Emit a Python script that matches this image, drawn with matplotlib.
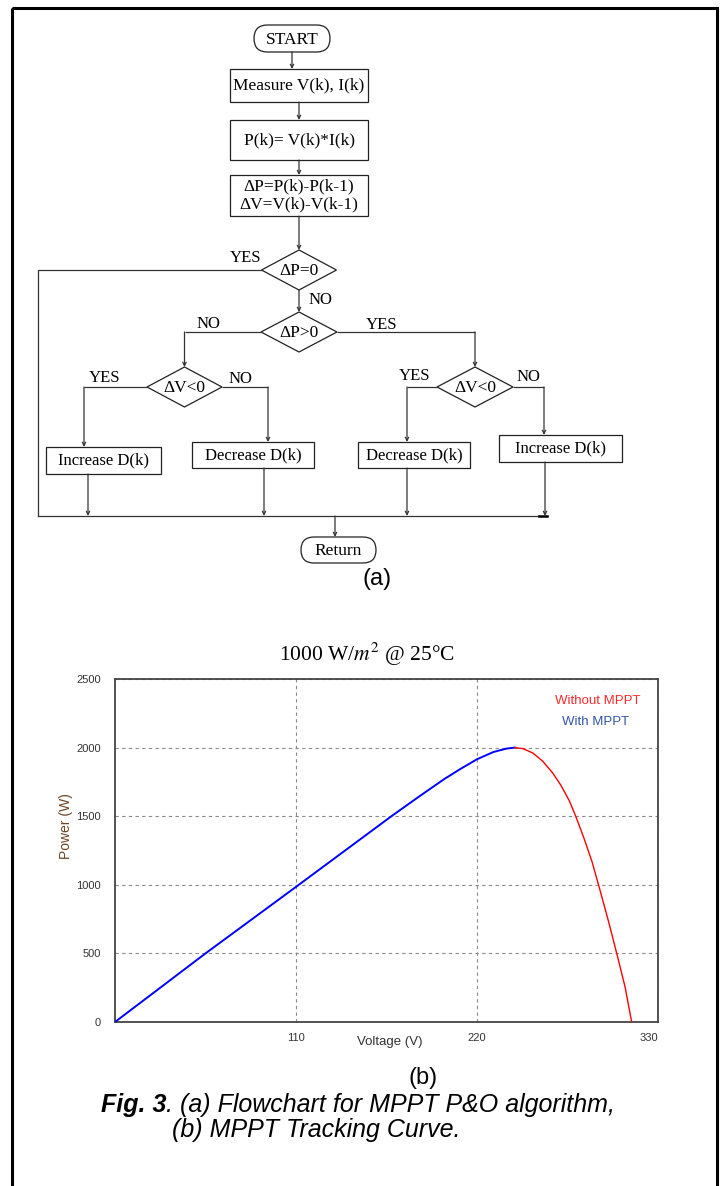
import matplotlib
matplotlib.use("Agg")
import matplotlib.pyplot as plt
from matplotlib.patches import Rectangle, Polygon, FancyBboxPatch

W, H = 722, 1186
SERIF = "Liberation Serif"
SANS = "Liberation Sans"
plt.rcParams["mathtext.fontset"] = "stix"

# MPPT tracking curve (voltage in V, power in W)
v_with_mppt = [0, 55, 110, 168, 185, 200, 210, 220, 230, 238, 243]
p_with_mppt = [0, 500, 985, 1500, 1645, 1770, 1845, 1915, 1968, 1993, 2000]
v_without_mppt = [243, 248, 254, 260, 266, 271, 276, 280, 285, 290, 295, 300, 305, 310, 314]
p_without_mppt = [2000, 1992, 1960, 1900, 1815, 1725, 1615, 1500, 1340, 1165, 950, 730, 496, 255, 0]
x_ticks = [110, 220, 330]
y_ticks = [0, 500, 1000, 1500, 2000, 2500]

# flowchart labels
box_labels = ["Measure V(k), I(k)", "P(k)= V(k)*I(k)", "\u0394P=P(k)-P(k-1)\n\u0394V=V(k)-V(k-1)"]
decision_labels = ["\u0394P=0", "\u0394P>0", "\u0394V<0", "\u0394V<0"]
action_labels = ["Increase D(k)", "Decrease D(k)", "Decrease D(k)", "Increase D(k)"]

LINE = "#333333"


def box(ax, x0, x1, y0, y1, text, fs=12.5):
    ax.add_patch(Rectangle((x0, y0), x1 - x0, y1 - y0, fill=False, ec="#222222", lw=0.9))
    ax.text((x0 + x1) / 2, (y0 + y1) / 2, text, ha="center", va="center",
            fontsize=fs, family=SERIF, linespacing=1.2)


def terminal(ax, x0, x1, y0, y1, text):
    h = y1 - y0
    ax.add_patch(FancyBboxPatch((x0, y0), x1 - x0, h,
                                boxstyle=f"round,pad=0,rounding_size={h / 2}",
                                fill=False, ec="#222222", lw=0.9))
    ax.text((x0 + x1) / 2, (y0 + y1) / 2 + 1, text, ha="center", va="center",
            fontsize=12.5, family=SERIF)


def diamond(ax, cx, cy, hw, hh, text):
    ax.add_patch(Polygon([(cx - hw, cy), (cx, cy - hh), (cx + hw, cy), (cx, cy + hh)],
                         closed=True, fill=False, ec="#222222", lw=0.9))
    ax.text(cx, cy + 1, text, ha="center", va="center", fontsize=12.5, family=SERIF)


def path(ax, pts, arrow=True):
    xs = [p[0] for p in pts]
    ys = [p[1] for p in pts]
    if arrow:
        ax.plot(xs[:-1], ys[:-1], color=LINE, lw=0.9, solid_capstyle="butt")
        ax.annotate("", xy=pts[-1], xytext=pts[-2],
                    arrowprops=dict(arrowstyle="->", color=LINE, lw=0.9,
                                    mutation_scale=6, shrinkA=0, shrinkB=0))
    else:
        ax.plot(xs, ys, color=LINE, lw=0.9)


def label(ax, x, y, text):
    ax.text(x, y, text, ha="center", va="center", fontsize=12, family=SERIF)


fig = plt.figure(figsize=(W / 100, H / 100), dpi=100)
bg = fig.add_axes([0, 0, 1, 1])
bg.set_xlim(0, W)
bg.set_ylim(H, 0)
bg.axis("off")

# outer frame
bg.add_patch(Rectangle((12, 8), 705, 1190, fill=False, ec="black", lw=2.2))

# ---- flowchart (a) ----
terminal(bg, 254, 330, 25, 52, "START")
path(bg, [(292, 52), (292, 69)])
box(bg, 230, 368, 69, 102, box_labels[0])
path(bg, [(299, 102), (299, 120)])
box(bg, 230, 368, 120, 160, box_labels[1])
path(bg, [(299, 160), (299, 175)])
box(bg, 230, 368, 175, 216, box_labels[2])
path(bg, [(299, 216), (299, 250)])

diamond(bg, 299, 270, 37.5, 20, decision_labels[0])
label(bg, 246, 258, "YES")
path(bg, [(261.5, 270), (38, 270), (38, 516)], arrow=False)
label(bg, 320, 300, "NO")
path(bg, [(299, 290), (299, 312)])

diamond(bg, 299, 332, 38, 20, decision_labels[1])
label(bg, 208, 324, "NO")
label(bg, 382, 325, "YES")
path(bg, [(261, 332), (184.5, 332), (184.5, 367)])
path(bg, [(337, 332), (475, 332), (475, 367)])

diamond(bg, 184.5, 387, 37.5, 20, decision_labels[2])
label(bg, 105, 378, "YES")
label(bg, 240, 379, "NO")
path(bg, [(147, 387), (84, 387), (84, 447)])
path(bg, [(222, 387), (268, 387), (268, 442)])

diamond(bg, 475, 387, 38, 20, decision_labels[3])
label(bg, 415, 376, "YES")
label(bg, 528, 377, "NO")
path(bg, [(437, 387), (407, 387), (407, 442)])
path(bg, [(513, 387), (544, 387), (544, 435)])

box(bg, 46, 161, 447, 474, action_labels[0], fs=12)
box(bg, 192, 314, 442, 468, action_labels[1], fs=12)
box(bg, 358, 470, 442, 468, action_labels[2], fs=12)
box(bg, 499, 622, 435, 462, action_labels[3], fs=12)

path(bg, [(88, 474), (88, 516)])
path(bg, [(264, 468), (264, 516)])
path(bg, [(407, 468), (407, 516)])
path(bg, [(545, 462), (545, 516)])
path(bg, [(38, 516), (547, 516)], arrow=False)
bg.plot([539, 547], [516, 516], color="black", lw=1.8)
path(bg, [(335, 516), (335, 537)])
terminal(bg, 301, 376, 537, 563, "Return")
bg.text(377, 579, "(a)", ha="center", va="center", fontsize=17, family=SANS)

# ---- tracking curve (b) ----
bg.text(367, 654, r"1000 W/$m^2$ @ 25°C", ha="center", va="center",
        fontsize=15.5, family=SERIF)

ax = fig.add_axes([115 / W, 1 - 1022 / H, 543 / W, 343 / H])
ax.plot(v_with_mppt, p_with_mppt, color="#0000ff", lw=1.4, zorder=3)
ax.plot(v_without_mppt, p_without_mppt, color="#ff0000", lw=1.0, zorder=3)
ax.set_xlim(0, 330)
ax.set_ylim(0, 2500)
ax.set_xticks(x_ticks)
ax.set_yticks(y_ticks)
ax.set_axisbelow(True)
ax.grid(True, ls=(0, (3, 3)), color="#8a8a8a", lw=0.8)
ax.tick_params(length=0, labelsize=8, labelcolor="#333333")
ax.tick_params(axis="y", pad=10)
ax.tick_params(axis="x", pad=8)
for t in ax.get_xticklabels() + ax.get_yticklabels():
    t.set_family(SANS)
ax.get_xticklabels()[-1].set_ha("right")
for s in ax.spines.values():
    s.set_color("#444444")
    s.set_linewidth(1.3)

ax.set_xlabel("Voltage (V)", fontsize=9.5, family=SANS, color="#333333")
ax.xaxis.set_label_coords(0.506, -0.040)
ax.set_ylabel("Power (W)", fontsize=10, family=SANS, color="#6b4423")
ax.yaxis.set_label_coords(-0.077, 0.57)

ax.text(293.5, 2340, "Without MPPT", color="#ff2a2a", fontsize=9.5,
        family=SANS, ha="center", va="center")
ax.text(292.3, 2187, "With MPPT", color="#3355a5", fontsize=9.5,
        family=SANS, ha="center", va="center")

bg.text(423, 1078, "(b)", ha="center", va="center", fontsize=17, family=SANS)

# caption
cap1 = bg.text(101, 1112, "Fig. 3", ha="left", va="baseline", fontsize=18,
               family=SANS, style="italic", weight="bold")
bg.annotate(". (a) Flowchart for MPPT P&O algorithm,", xy=(1, 1112),
            xycoords=(cap1, "data"), ha="left", va="baseline", fontsize=18,
            family=SANS, style="italic")
bg.text(172, 1137, "(b) MPPT Tracking Curve.", ha="left", va="baseline",
        fontsize=18, family=SANS, style="italic")

fig.savefig("out.png", dpi=100)
